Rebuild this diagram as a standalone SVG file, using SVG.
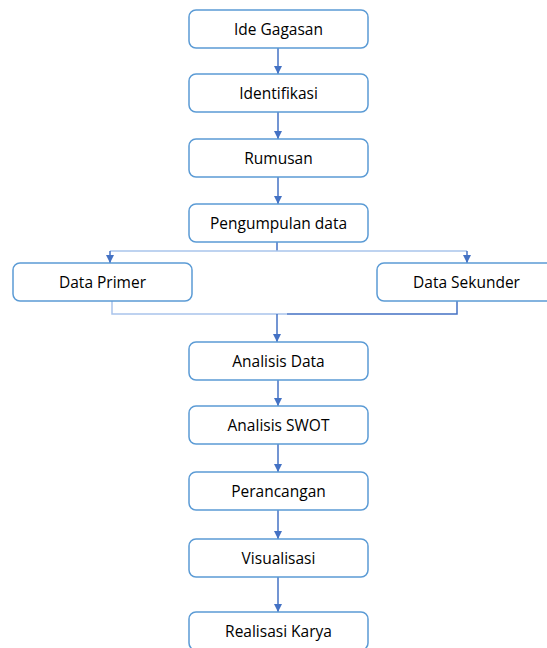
<svg xmlns="http://www.w3.org/2000/svg" width="547" height="648" viewBox="0 0 547 648">
  <style>
    .box { fill: #ffffff; stroke: #5B9BD5; stroke-width: 1.5; }
    .lbl { font-family: "Open Sans", "Liberation Sans", Arial, sans-serif; font-size: 15.5px; fill: #000000; text-anchor: middle; dominant-baseline: central; }
    .wire { fill: none; stroke: #4472C4; stroke-width: 1.5; }
    .wire-light { fill: none; stroke: #A9C4EB; stroke-width: 1.5; }
  </style>
  <defs>
    <marker id="arrow" viewBox="0 0 10 10" refX="10" refY="5" markerWidth="5.5" markerHeight="5.5" orient="auto" markerUnits="strokeWidth">
      <path d="M0,0 L10,5 L0,10 Z" fill="#4472C4"/>
    </marker>
  </defs>
  <rect width="547" height="648" fill="#ffffff"/>

  <g id="connectors">
    <line class="wire" x1="278" y1="48" x2="278" y2="74" marker-end="url(#arrow)"/>
    <line class="wire" x1="278" y1="112" x2="278" y2="139" marker-end="url(#arrow)"/>
    <line class="wire" x1="278" y1="177" x2="278" y2="204" marker-end="url(#arrow)"/>
    <!-- split to the two data sources -->
    <line class="wire" x1="277" y1="242" x2="277" y2="251"/>
    <line class="wire-light" x1="110" y1="251" x2="467" y2="251"/>
    <line class="wire" x1="110" y1="251" x2="110" y2="263" marker-end="url(#arrow)"/>
    <line class="wire" x1="467" y1="251" x2="467" y2="263" marker-end="url(#arrow)"/>
    <!-- merge back into analysis -->
    <polyline class="wire-light" points="112,301 112,314 287,314"/>
    <polyline class="wire" points="287,314 457,314 457,301"/>
    <line class="wire" x1="277" y1="314" x2="277" y2="342" marker-end="url(#arrow)"/>
    <line class="wire" x1="278" y1="380" x2="278" y2="406" marker-end="url(#arrow)"/>
    <line class="wire" x1="278" y1="444" x2="278" y2="472" marker-end="url(#arrow)"/>
    <line class="wire" x1="278" y1="510" x2="278" y2="539" marker-end="url(#arrow)"/>
    <line class="wire" x1="278" y1="577" x2="278" y2="612" marker-end="url(#arrow)"/>
  </g>

  <g id="ide-gagasan">
    <rect class="box" x="189" y="10" width="179" height="38" rx="7"/>
    <text class="lbl" x="278.5" y="29">Ide Gagasan</text>
  </g>
  <g id="identifikasi">
    <rect class="box" x="189" y="74" width="179" height="38" rx="7"/>
    <text class="lbl" x="278.5" y="93">Identifikasi</text>
  </g>
  <g id="rumusan">
    <rect class="box" x="189" y="139" width="179" height="38" rx="7"/>
    <text class="lbl" x="278.5" y="158">Rumusan</text>
  </g>
  <g id="pengumpulan-data">
    <rect class="box" x="189" y="204" width="179" height="38" rx="7"/>
    <text class="lbl" x="278.5" y="223">Pengumpulan data</text>
  </g>
  <g id="data-primer">
    <rect class="box" x="13" y="263" width="179" height="38" rx="7"/>
    <text class="lbl" x="102.5" y="282">Data Primer</text>
  </g>
  <g id="data-sekunder">
    <rect class="box" x="377" y="263" width="179" height="38" rx="7"/>
    <text class="lbl" x="466.5" y="282">Data Sekunder</text>
  </g>
  <g id="analisis-data">
    <rect class="box" x="189" y="342" width="179" height="38" rx="7"/>
    <text class="lbl" x="278.5" y="361">Analisis Data</text>
  </g>
  <g id="analisis-swot">
    <rect class="box" x="189" y="406" width="179" height="38" rx="7"/>
    <text class="lbl" x="278.5" y="425">Analisis SWOT</text>
  </g>
  <g id="perancangan">
    <rect class="box" x="189" y="472" width="179" height="38" rx="7"/>
    <text class="lbl" x="278.5" y="491">Perancangan</text>
  </g>
  <g id="visualisasi">
    <rect class="box" x="189" y="539" width="179" height="38" rx="7"/>
    <text class="lbl" x="278.5" y="558">Visualisasi</text>
  </g>
  <g id="realisasi-karya">
    <rect class="box" x="189" y="612" width="179" height="38" rx="7"/>
    <text class="lbl" x="278.5" y="631">Realisasi Karya</text>
  </g>
</svg>
